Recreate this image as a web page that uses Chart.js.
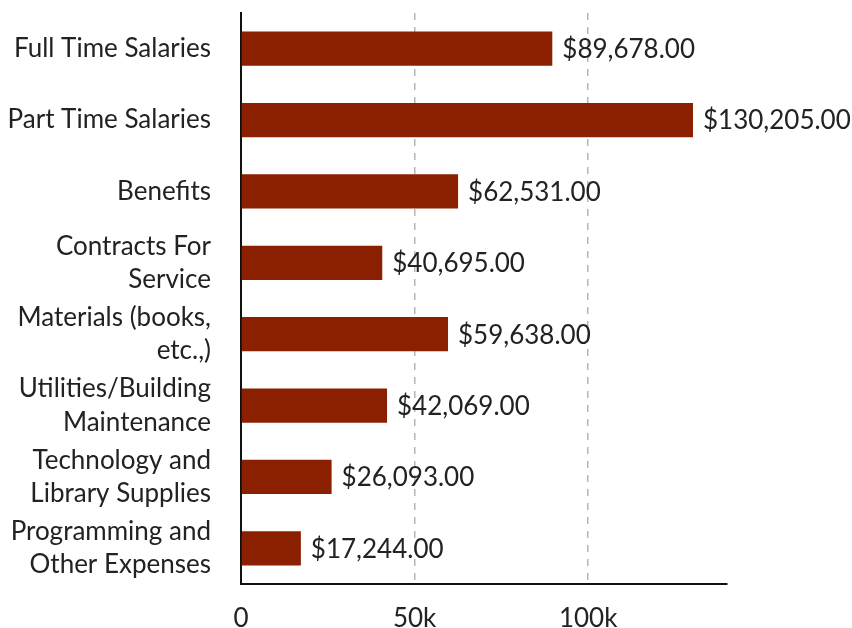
<!DOCTYPE html>
<html>
<head>
<meta charset="utf-8">
<script src="https://cdn.jsdelivr.net/npm/chart.js@4/dist/chart.umd.min.js"></script>
<style>
  html, body { margin: 0; padding: 0; background: #fff; }
  #wrap { width: 852px; height: 628px; position: relative; }
</style>
</head>
<body>
<div id="wrap"><canvas id="budgetChart"></canvas></div>
<script>
// categories (multi-line labels) and values
const categories = [
    ['Full Time Salaries'],
    ['Part Time Salaries'],
    ['Benefits'],
    ['Contracts For', 'Service'],
    ['Materials (books,', 'etc.,)'],
    ['Utilities/Building', 'Maintenance'],
    ['Technology and', 'Library Supplies'],
    ['Programming and', 'Other Expenses']
];
const expenses = [89678, 130205, 62531, 40695, 59638, 42069, 26093, 17244];
const xTickValues = [0, 50000, 100000];

const BAR_COLOR = '#8b2000';
const TEXT_COLOR = '#222222';
const FONT = 'Lato';

const money = v => '$' + v.toLocaleString('en-US', { minimumFractionDigits: 2, maximumFractionDigits: 2 });

// draws "$xx,xxx.00" after each bar
const valueLabels = {
    id: 'valueLabels',
    afterDatasetsDraw(chart) {
        const ctx = chart.ctx;
        const meta = chart.getDatasetMeta(0);
        ctx.save();
        ctx.font = '26px ' + FONT;
        ctx.fillStyle = TEXT_COLOR;
        ctx.textAlign = 'left';
        ctx.textBaseline = 'middle';
        meta.data.forEach((bar, i) => {
            ctx.fillText(money(expenses[i]), bar.x + 10, bar.y + 1);
        });
        ctx.restore();
    }
};

new Chart(document.getElementById('budgetChart'), {
    type: 'bar',
    data: {
        labels: categories,
        datasets: [{
            data: expenses,
            backgroundColor: BAR_COLOR,
            borderWidth: 0,
            barPercentage: 0.48,
            categoryPercentage: 1
        }]
    },
    options: {
        indexAxis: 'y',
        responsive: true,
        maintainAspectRatio: false,
        animation: false,
        layout: { padding: { top: 13, right: 125, bottom: 0, left: 0 } },
        plugins: {
            legend: { display: false },
            tooltip: { enabled: false }
        },
        scales: {
            x: {
                min: 0,
                max: 140000,
                afterBuildTicks: axis => {
                    axis.ticks = xTickValues.map(v => ({ value: v }));
                },
                afterFit: scale => {
                    scale.height = 44;
                    scale.paddingLeft = 0;
                    scale.paddingRight = 0;
                },
                grid: {
                    drawTicks: false,
                    color: c => c.tick && c.tick.value === 0 ? 'rgba(0,0,0,0)' : '#b5b5b5',
                    lineWidth: 1.5
                },
                border: { display: true, color: '#111', width: 2, dash: [7, 7] },
                ticks: {
                    padding: 19,
                    color: TEXT_COLOR,
                    font: { family: FONT, size: 26 },
                    callback: v => v === 0 ? '0' : (v / 1000) + 'k'
                }
            },
            y: {
                afterFit: scale => {
                    scale.width = 241;
                    scale.paddingTop = 0;
                    scale.paddingBottom = 0;
                },
                grid: { display: false, drawTicks: false },
                border: { display: true, color: '#111', width: 2 },
                ticks: {
                    padding: 30,
                    color: TEXT_COLOR,
                    font: { family: FONT, size: 26, lineHeight: 1.28 }
                }
            }
        }
    },
    plugins: [valueLabels]
});
</script>
</body>
</html>
